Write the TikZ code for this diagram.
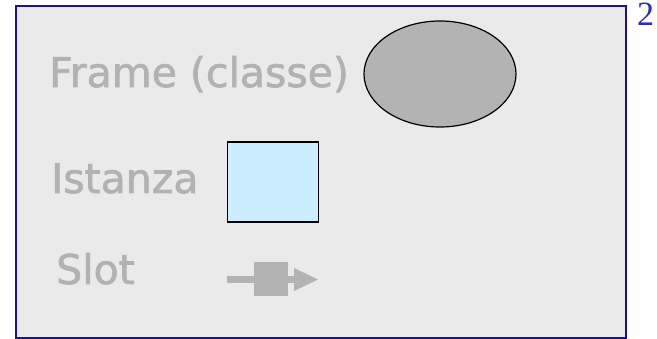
\documentclass[tikz,border=0pt]{standalone}
\usepackage{fontspec}
\setmainfont{DejaVu Sans}
\newfontfamily\lblfont[FakeBold=1.6]{DejaVu Sans}
\newfontfamily\numfont{Liberation Serif}
\usetikzlibrary{shapes.geometric}
\definecolor{bgc}{HTML}{EAEAEA}
\definecolor{framec}{HTML}{1E0F8C}
\definecolor{txtc}{HTML}{B2B2B2}
\definecolor{ovalc}{HTML}{B3B3B3}
\definecolor{boxc}{HTML}{CCECFF}
\definecolor{numc}{HTML}{2B2BB8}
\tikzset{
  lbl/.style={anchor=base west, inner sep=0pt, text=txtc, font=\fontsize{41}{48}\lblfont},
  slotc/.style={fill=ovalc, draw=none}
}
\begin{document}
\begin{tikzpicture}[x=1pt,y=-1pt]
\useasboundingbox (0,0) rectangle (657,339);
\draw[framec, line width=2pt, fill=bgc] (16,6) rectangle (626,338);
\node[anchor=north west, inner sep=0pt, text=numc, font=\fontsize{34}{40}\selectfont\numfont] (num) at (637,3) {2};
\node[lbl] (frame) at (49,87) {Frame (classe)};
\node[lbl] (istanza) at (51,193) {Istanza};
\node[lbl] (slot) at (56,284) {Slot};
\node[ellipse, draw=black, line width=1.2pt, fill=ovalc, minimum width=152pt, minimum height=106pt, inner sep=0pt] (oval) at (440,74) {};
\node[rectangle, draw=black, line width=1.2pt, fill=boxc, minimum width=91pt, minimum height=80pt, inner sep=0pt] (inst) at (273,182) {};
\fill[slotc] (227,276) rectangle (294,283);
\fill[slotc] (254,262) rectangle (288,296);
\fill[slotc] (294,268) -- (318,279.5) -- (294,291) -- cycle;
\end{tikzpicture}
\end{document}
